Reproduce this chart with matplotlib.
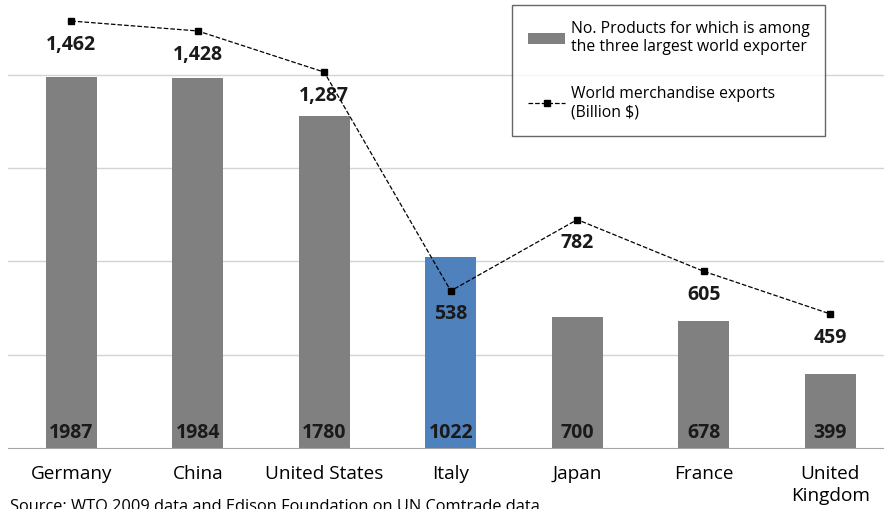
import numpy as np
import matplotlib
matplotlib.use("Agg")
import matplotlib.pyplot as plt
from matplotlib.patches import Patch
from matplotlib.lines import Line2D

plt.rcParams['font.family'] = ['Open Sans', 'DejaVu Sans']

countries = ['Germany', 'China', 'United States', 'Italy', 'Japan', 'France', 'United\nKingdom']
products = [1987, 1984, 1780, 1022, 700, 678, 399]
exports = [1462, 1428, 1287, 538, 782, 605, 459]
bar_colors = ['#808080', '#808080', '#808080', '#4f81bd', '#808080', '#808080', '#808080']

fig = plt.figure(figsize=(8.84, 5.09), dpi=100)
ax = fig.add_axes([8/884, 61/509, 876/884, 448/509])
x = np.arange(len(countries))

ax.bar(x, products, width=0.4, color=bar_colors, zorder=2)
ax.set_ylim(0, 2400)
ax.set_xlim(-0.5, -0.5 + 876/126.5)
ax.set_yticks([500, 1000, 1500, 2000])
ax.yaxis.grid(True, color='#d4d4d4', linewidth=1)
ax.set_axisbelow(True)
ax.yaxis.set_tick_params(length=0, labelleft=False)
ax.xaxis.set_tick_params(length=0, pad=12)
ax.set_xticks(x)
ax.set_xticklabels(countries, fontsize=13.7, linespacing=1.3)
for s in ['top', 'right', 'left']:
    ax.spines[s].set_visible(False)
ax.spines['bottom'].set_color('#a6a6a6')

for xi, v in zip(x, products):
    ax.text(xi, 80, str(v), ha='center', va='center', fontsize=14, fontweight='bold', color='#1a1a1a', zorder=3)

ax2 = ax.twinx()
ax2.set_ylim(0, 1534)
ax2.plot(x, exports, linestyle='--', color='black', linewidth=0.9, marker='s', markersize=5, zorder=4)
ax2.axis('off')
for xi, v in zip(x, exports):
    ax2.annotate(f'{v:,}', (xi, v), xytext=(0, -17), textcoords='offset points', ha='center', va='center',
                 fontsize=14, fontweight='bold', color='#1a1a1a')

handles = [Patch(facecolor='#808080'),
           Line2D([0], [0], linestyle='--', color='black', linewidth=0.9, marker='s', markersize=5)]
labels = ['No. Products for which is among\nthe three largest world exporter',
          'World merchandise exports\n(Billion $)']
leg = fig.legend(handles, labels, loc='upper left', bbox_to_anchor=(512/884, 1 - 5/509),
                 fontsize=11.3, frameon=True, fancybox=False, edgecolor='#404040',
                 labelspacing=1.95, handlelength=2.4, handletextpad=0.35, borderpad=1.0,
                 borderaxespad=0)
leg.get_frame().set_linewidth(1)

fig.text(10/884, -6/509, 'Source: WTO 2009 data and Edison Foundation on UN Comtrade data.', fontsize=11.75, va='bottom')

fig.savefig('out.png', dpi=100)
